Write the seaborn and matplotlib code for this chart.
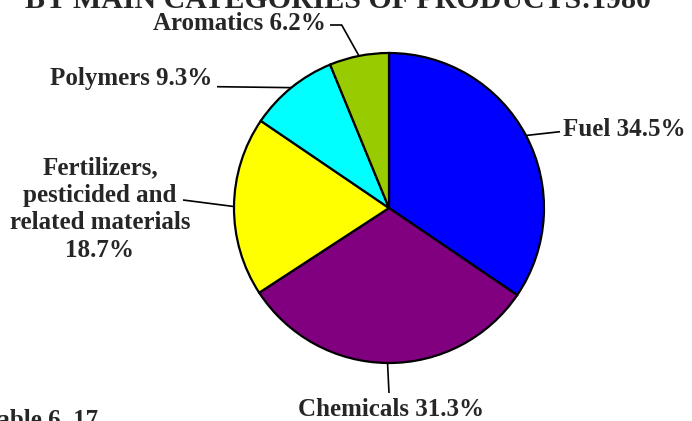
import numpy as np
import seaborn as sns
import matplotlib.pyplot as plt

# data (shares of production, 1980)
categories = ['Fuel', 'Chemicals', 'Fertilizers,\npesticided and\nrelated materials', 'Polymers', 'Aromatics']
shares = [34.5, 31.3, 18.7, 9.3, 6.2]
colors = ['#0000ff', '#800080', '#ffff00', '#00ffff', '#99cc00']

sns.set_style('white')
plt.rcParams['font.family'] = ['Liberation Serif', 'DejaVu Serif']
plt.rcParams['font.weight'] = 'bold'

W, H = 692, 421
CX, CY, R = 389, 208, 155  # pie centre / radius in pixels

def px(x, y):
    # pixel position -> data units (pie radius = 1)
    return (x - CX) / R, (CY - y) / R

fig = plt.figure(figsize=(W / 100, H / 100), dpi=100)
ax = fig.add_axes([0, 0, 1, 1])
ax.pie(shares, colors=colors, startangle=90, counterclock=False, radius=1,
       wedgeprops=dict(edgecolor='black', linewidth=1.6))
ax.set_xlim(px(0, 0)[0], px(W, 0)[0])
ax.set_ylim(px(0, H)[1], px(0, 0)[1])
ax.set_aspect('equal')
ax.axis('off')

# mid angles of wedges -> leader line anchor on the rim
cum = np.cumsum([0] + shares[:-1])
mids = 90 - (cum + np.array(shares) / 2) * 3.6
anchors = [(np.cos(np.radians(a)), np.sin(np.radians(a))) for a in mids]

# leader paths (pixels) after the rim point, then label spot
leaders = [
    [(560, 131.7)],
    [(389, 393)],
    [(183, 200)],
    [(217, 86.7)],
    [(341.7, 25), (330, 25)],
]
labels = [
    (563, 130, 'left', 'center'),
    (391, 410, 'center', 'center'),
    (100, 209, 'center', 'center'),
    (212, 78, 'right', 'center'),
    (326, 23, 'right', 'center'),
]

for cat, val, anc, path, (lx, ly, ha, va) in zip(categories, shares, anchors, leaders, labels):
    pts = [anc] + [px(*p) for p in path]
    xs, ys = zip(*pts)
    ax.plot(xs, ys, color='black', lw=1.2, solid_capstyle='butt')
    sep = '\n' if '\n' in cat else ' '
    ax.text(*px(lx, ly), f'{cat}{sep}{val}%', ha=ha, va=va, fontsize=18,
            fontweight='bold', multialignment='center', linespacing=1.25)

# title and table caption, partly cut by the figure edges as in the source
ax.text(*px(338, 8), 'BY MAIN CATEGORIES OF PRODUCTS:1980', ha='center', va='baseline',
        fontsize=21.5, fontweight='bold', clip_on=False)
ax.text(*px(-17, 427), 'Table 6. 17', ha='left', va='baseline',
        fontsize=18, fontweight='bold', clip_on=False)

fig.savefig('out.png', dpi=100)
